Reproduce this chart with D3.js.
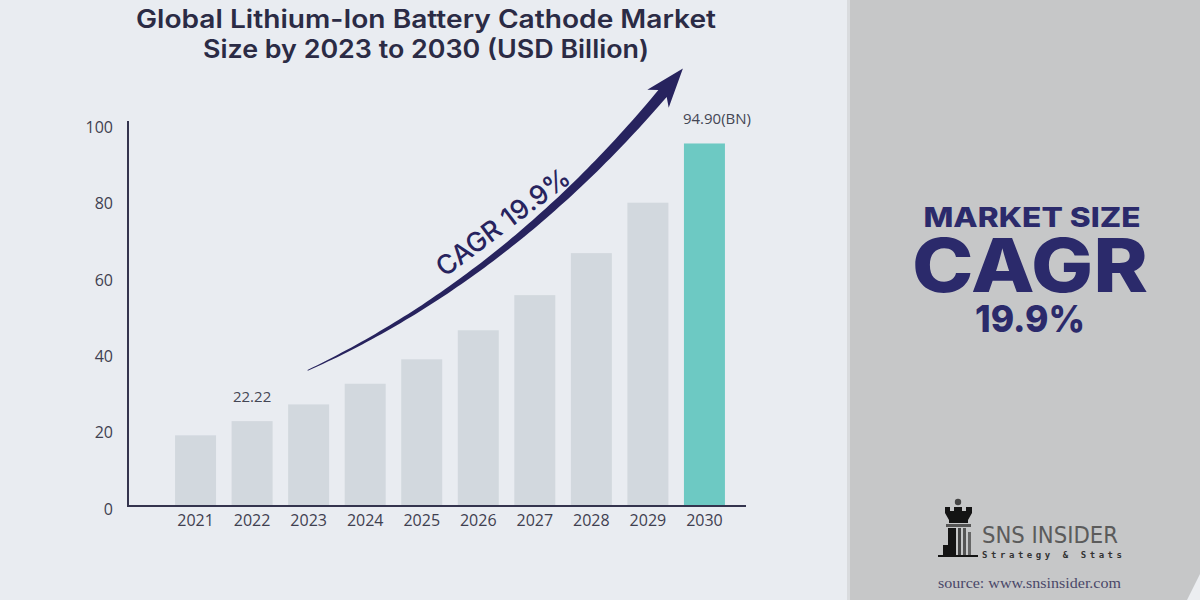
<!DOCTYPE html>
<html>
<head>
<meta charset="utf-8">
<script src="https://cdn.jsdelivr.net/npm/d3@7"></script>
<style>
  html, body { margin: 0; padding: 0; background: #e9ecf1; }
  svg { display: block; }
</style>
</head>
<body>
<svg id="chart" width="1200" height="600"></svg>
<script>
// ---------- data ----------
const years = ["2021", "2022", "2023", "2024", "2025", "2026", "2027", "2028", "2029", "2030"];
const values = [18.5, 22.22, 26.6, 32.0, 38.4, 46.0, 55.2, 66.2, 79.4, 94.9];
const valueLabels = ["", "22.22", "", "", "", "", "", "", "", "94.90(BN)"];
const yTicks = [0, 20, 40, 60, 80, 100];
const titleLines = ["Global Lithium-Ion Battery Cathode Market", "Size by 2023 to 2030 (USD Billion)"];
const cagrText = "CAGR 19.9%";
const sideLines = ["MARKET SIZE", "CAGR", "19.9%"];

const svg = d3.select("#chart");

// ---------- backgrounds ----------
svg.append("rect").attr("x", 0).attr("y", 0).attr("width", 849).attr("height", 600).attr("fill", "#e9ecf1");
svg.append("rect").attr("x", 847).attr("y", 0).attr("width", 3).attr("height", 600).attr("fill", "#d9dbde");
svg.append("rect").attr("x", 850).attr("y", 0).attr("width", 350).attr("height", 600).attr("fill", "#c6c7c8");
svg.append("path").attr("d", "M1200,574 Q1193,588 1187,600 L1200,600 Z").attr("fill", "#eceef1");

// ---------- scales ----------
const x = d3.scaleBand().domain(years).range([140, 760]).paddingInner(0.275).paddingOuter(0.62);
const y = d3.scaleLinear().domain([0, 100]).range([506, 124]);

// ---------- title ----------
const titleWidths = [580, 446];
const title = svg.append("g");
titleLines.forEach((t, i) => {
  title.append("text")
    .attr("x", 426).attr("y", 28 + i * 30)
    .attr("text-anchor", "middle")
    .attr("font-family", "Inter, 'Open Sans', sans-serif")
    .attr("font-weight", 600)
    .attr("font-size", 25)
    .attr("fill", "#2b2b45")
    .attr("textLength", titleWidths[i])
    .attr("lengthAdjust", "spacingAndGlyphs")
    .text(t);
});

// ---------- bars ----------
svg.append("g").selectAll("rect").data(years).join("rect")
  .attr("x", d => x(d))
  .attr("y", (d, i) => y(values[i]))
  .attr("width", x.bandwidth())
  .attr("height", (d, i) => y(0) - y(values[i]))
  .attr("fill", (d, i) => i === years.length - 1 ? "#6dc9c3" : "#d2d8de");

// value labels
svg.append("g").selectAll("text").data(years).join("text")
  .attr("x", (d, i) => i === years.length - 1 ? x(d) - 1 : x(d) + x.bandwidth() / 2)
  .attr("y", (d, i) => y(values[i]) - 19)
  .attr("text-anchor", (d, i) => i === years.length - 1 ? "start" : "middle")
  .attr("font-family", "'Open Sans', sans-serif")
  .attr("font-size", 15)
  .attr("fill", "#444654")
  .text((d, i) => valueLabels[i]);

// ---------- axes ----------
const yAxis = d3.axisLeft(y).tickValues(yTicks).tickSize(0).tickPadding(15);
const gy = svg.append("g").attr("transform", "translate(128,0)").call(yAxis);
gy.select(".domain").remove();
gy.selectAll("text")
  .attr("font-family", "'Open Sans', sans-serif")
  .attr("font-size", 16)
  .attr("fill", "#3f4050")
  .attr("dy", "0.52em");

const xAxis = d3.axisBottom(x).tickSize(0).tickPadding(9);
const gx = svg.append("g").attr("transform", "translate(0,506)").call(xAxis);
gx.select(".domain").remove();
gx.selectAll("text")
  .attr("font-family", "'Open Sans', sans-serif")
  .attr("font-size", 16)
  .attr("fill", "#3f4050");

// axis lines
svg.append("line").attr("x1", 128).attr("x2", 128).attr("y1", 121).attr("y2", y(0) + 1)
  .attr("stroke", "#34344e").attr("stroke-width", 2);
svg.append("line").attr("x1", 127).attr("x2", 746).attr("y1", y(0)).attr("y2", y(0))
  .attr("stroke", "#34344e").attr("stroke-width", 2);

// ---------- growth arrow ----------
const P0 = [x("2023") + x.bandwidth() / 2 - 1, y(35.5)];
const P1 = [520, 272];
const P2 = [x("2030") - 1, y(114.5)];
function bez(t) {
  const a = (1 - t) * (1 - t), b = 2 * (1 - t) * t, c = t * t;
  return [a * P0[0] + b * P1[0] + c * P2[0], a * P0[1] + b * P1[1] + c * P2[1]];
}
function tan(t) {
  const dx = 2 * (1 - t) * (P1[0] - P0[0]) + 2 * t * (P2[0] - P1[0]);
  const dy = 2 * (1 - t) * (P1[1] - P0[1]) + 2 * t * (P2[1] - P1[1]);
  const L = Math.hypot(dx, dy);
  return [dx / L, dy / L];
}
let tH = 1;
for (let t = 1; t > 0; t -= 0.001) {
  const p = bez(t);
  if (Math.hypot(p[0] - P2[0], p[1] - P2[1]) >= 32) { tH = t; break; }
}
const N = 80, left = [], right = [];
for (let i = 0; i <= N; i++) {
  const t = tH * i / N;
  const p = bez(t), u = tan(t), n = [-u[1], u[0]];
  const w = 0.4 + 5.0 * Math.pow(i / N, 0.85);
  left.push([p[0] + n[0] * w, p[1] + n[1] * w]);
  right.push([p[0] - n[0] * w, p[1] - n[1] * w]);
}
const B = bez(tH), uB = tan(tH), nB = [-uB[1], uB[0]];
const barbL = [B[0] + nB[0] * 14 - uB[0] * 7, B[1] + nB[1] * 14 - uB[1] * 7];
const barbR = [B[0] - nB[0] * 14 - uB[0] * 7, B[1] - nB[1] * 14 - uB[1] * 7];
const poly = left.concat([barbL, P2, barbR]).concat(right.reverse());
svg.append("path")
  .attr("d", "M" + poly.map(p => p[0].toFixed(1) + "," + p[1].toFixed(1)).join("L") + "Z")
  .attr("fill", "#27235e");

svg.append("text")
  .attr("transform", "translate(503,222) rotate(-37)")
  .attr("text-anchor", "middle")
  .attr("dy", "0.35em")
  .attr("font-family", "Inter, 'Open Sans', sans-serif")
  .attr("font-weight", 500)
  .attr("font-size", 27)
  .attr("fill", "#27235e")
  .attr("textLength", 160)
  .attr("lengthAdjust", "spacingAndGlyphs")
  .text(cagrText);

// ---------- right panel ----------
const side = svg.append("g").attr("fill", "#2b2a6b")
  .attr("font-family", "Inter, 'Open Sans', sans-serif").attr("font-weight", 800)
  .attr("text-anchor", "middle");
side.append("text").attr("x", 1032).attr("y", 227).attr("font-size", 27)
  .attr("textLength", 217).attr("lengthAdjust", "spacingAndGlyphs").text(sideLines[0]);
side.append("text").attr("x", 1030).attr("y", 292).attr("font-size", 74)
  .attr("textLength", 236).attr("lengthAdjust", "spacingAndGlyphs").text(sideLines[1]);
side.append("text").attr("x", 1030).attr("y", 332).attr("font-size", 37)
  .attr("textLength", 110).attr("lengthAdjust", "spacingAndGlyphs").text(sideLines[2]);

// ---------- logo ----------
const logo = svg.append("g").attr("fill", "#141414");
logo.append("circle").attr("cx", 958).attr("cy", 502).attr("r", 3.2).attr("fill", "#444");
logo.append("path").attr("d",
  "M945,507 L950,507 L950,511 L954,511 L954,507 L962,507 L962,511 L966,511 L966,507 L972,507 L972,513 L968,520 L968,523 L949,523 L949,520 L945,513 Z");
logo.append("rect").attr("x", 946).attr("y", 524).attr("width", 25).attr("height", 3).attr("fill", "#555");
logo.append("rect").attr("x", 948).attr("y", 528).attr("width", 8).attr("height", 27);
logo.append("rect").attr("x", 958).attr("y", 528).attr("width", 3).attr("height", 27).attr("fill", "#444");
logo.append("rect").attr("x", 963).attr("y", 528).attr("width", 3).attr("height", 27).attr("fill", "#555");
logo.append("rect").attr("x", 968).attr("y", 532).attr("width", 3).attr("height", 23).attr("fill", "#666");
logo.append("rect").attr("x", 943).attr("y", 545).attr("width", 5).attr("height", 10);
logo.append("rect").attr("x", 938).attr("y", 555).attr("width", 40).attr("height", 2);

svg.append("text").attr("x", 982).attr("y", 543)
  .attr("font-family", "'Liberation Sans Narrow', 'DejaVu Sans Condensed', 'Open Sans', sans-serif")
  .attr("font-size", 23).attr("fill", "#5b5b5b")
  .attr("textLength", 136).attr("lengthAdjust", "spacingAndGlyphs")
  .text("SNS INSIDER");
svg.append("text").attr("x", 982).attr("y", 558)
  .attr("font-family", "'DejaVu Sans Mono', monospace").attr("font-weight", 700)
  .attr("font-size", 9).attr("fill", "#333")
  .attr("textLength", 140).attr("lengthAdjust", "spacing")
  .text("Strategy & Stats");
svg.append("text").attr("x", 938).attr("y", 588)
  .attr("font-family", "'Liberation Serif', 'DejaVu Serif', serif")
  .attr("font-size", 14).attr("fill", "#4a4868")
  .attr("textLength", 183).attr("lengthAdjust", "spacingAndGlyphs")
  .text("source: www.snsinsider.com");
</script>
</body>
</html>
